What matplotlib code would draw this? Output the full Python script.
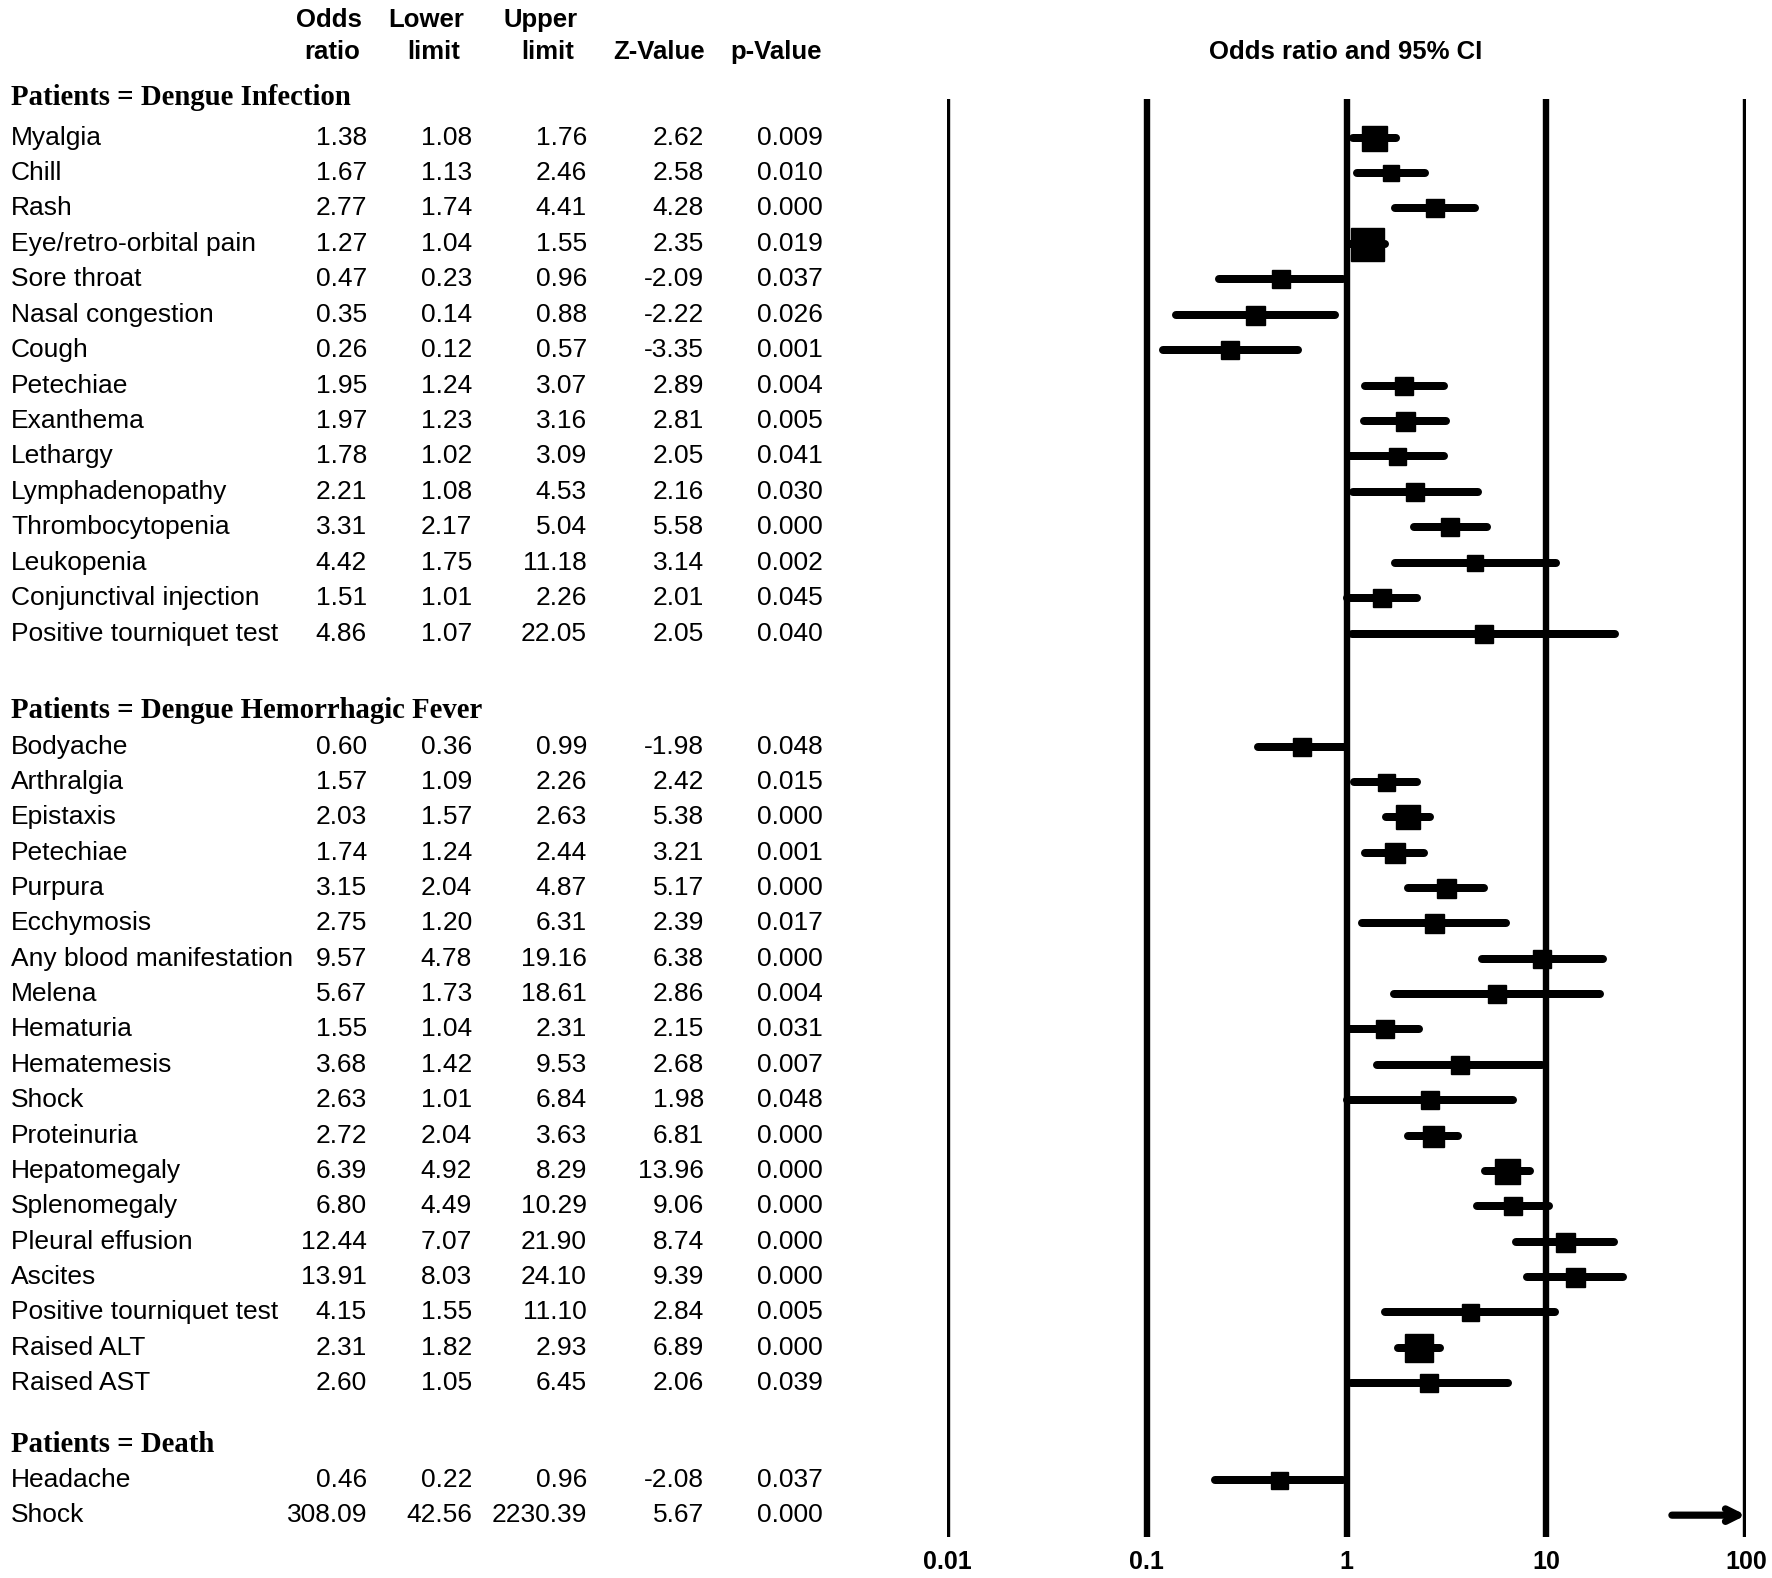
import numpy as np
import matplotlib
matplotlib.use("Agg")
from matplotlib import pyplot as plt

# ---- data ------------------------------------------------------------------
group_titles = ["Patients = Dengue Infection",
                "Patients = Dengue Hemorrhagic Fever",
                "Patients = Death"]

di_labels = ["Myalgia", "Chill", "Rash", "Eye/retro-orbital pain", "Sore throat",
             "Nasal congestion", "Cough", "Petechiae", "Exanthema", "Lethargy",
             "Lymphadenopathy", "Thrombocytopenia", "Leukopenia",
             "Conjunctival injection", "Positive tourniquet test"]
di_or = [1.38, 1.67, 2.77, 1.27, 0.47, 0.35, 0.26, 1.95, 1.97, 1.78, 2.21, 3.31, 4.42, 1.51, 4.86]
di_lower = [1.08, 1.13, 1.74, 1.04, 0.23, 0.14, 0.12, 1.24, 1.23, 1.02, 1.08, 2.17, 1.75, 1.01, 1.07]
di_upper = [1.76, 2.46, 4.41, 1.55, 0.96, 0.88, 0.57, 3.07, 3.16, 3.09, 4.53, 5.04, 11.18, 2.26, 22.05]
di_z = [2.62, 2.58, 4.28, 2.35, -2.09, -2.22, -3.35, 2.89, 2.81, 2.05, 2.16, 5.58, 3.14, 2.01, 2.05]
di_p = [0.009, 0.010, 0.000, 0.019, 0.037, 0.026, 0.001, 0.004, 0.005, 0.041, 0.030, 0.000, 0.002, 0.045, 0.040]
di_weight = [25, 16, 18, 33, 18, 19, 18, 18, 19, 17, 18, 18, 16, 18, 18]

dhf_labels = ["Bodyache", "Arthralgia", "Epistaxis", "Petechiae", "Purpura", "Ecchymosis",
              "Any blood manifestation", "Melena", "Hematuria", "Hematemesis", "Shock",
              "Proteinuria", "Hepatomegaly", "Splenomegaly", "Pleural effusion", "Ascites",
              "Positive tourniquet test", "Raised ALT", "Raised AST"]
dhf_or = [0.60, 1.57, 2.03, 1.74, 3.15, 2.75, 9.57, 5.67, 1.55, 3.68, 2.63, 2.72, 6.39, 6.80,
          12.44, 13.91, 4.15, 2.31, 2.60]
dhf_lower = [0.36, 1.09, 1.57, 1.24, 2.04, 1.20, 4.78, 1.73, 1.04, 1.42, 1.01, 2.04, 4.92, 4.49,
             7.07, 8.03, 1.55, 1.82, 1.05]
dhf_upper = [0.99, 2.26, 2.63, 2.44, 4.87, 6.31, 19.16, 18.61, 2.31, 9.53, 6.84, 3.63, 8.29,
             10.29, 21.90, 24.10, 11.10, 2.93, 6.45]
dhf_z = [-1.98, 2.42, 5.38, 3.21, 5.17, 2.39, 6.38, 2.86, 2.15, 2.68, 1.98, 6.81, 13.96, 9.06,
         8.74, 9.39, 2.84, 6.89, 2.06]
dhf_p = [0.048, 0.015, 0.000, 0.001, 0.000, 0.017, 0.000, 0.004, 0.031, 0.007, 0.048, 0.000,
         0.000, 0.000, 0.000, 0.000, 0.005, 0.000, 0.039]
dhf_weight = [18, 17, 24, 20, 19, 19, 18, 18, 18, 18, 18, 21, 25, 18, 19, 19, 17, 27, 18]

death_labels = ["Headache", "Shock"]
death_or = [0.46, 308.09]
death_lower = [0.22, 42.56]
death_upper = [0.96, 2230.39]
death_z = [-2.08, 5.67]
death_p = [0.037, 0.000]
death_weight = [17, 17]

axis_ticks = [0.01, 0.1, 1, 10, 100]
tick_labels = ["0.01", "0.1", "1", "10", "100"]

groups = [
    (group_titles[0], di_labels, di_or, di_lower, di_upper, di_z, di_p, di_weight),
    (group_titles[1], dhf_labels, dhf_or, dhf_lower, dhf_upper, dhf_z, dhf_p, dhf_weight),
    (group_titles[2], death_labels, death_or, death_lower, death_upper, death_z, death_p, death_weight),
]

# ---- layout (pixel units of the 1772x1578 output) ---------------------------
W, H = 1772, 1578
ROW = [35.44, 35.35, 35.2]
head_to_row = [40.5, 36, 35]
gaps_after = [77, 62, 0]  # last row -> next group header

sans = "Liberation Sans"
serif = "Liberation Serif"
fs = 19

fig = plt.figure(figsize=(W / 100, H / 100), dpi=100)
ax = fig.add_axes([0, 0, 1, 1])
ax.set_xlim(0, W)
ax.set_ylim(H, 0)
ax.axis("off")

x0, x1 = 947, 1746
fx = fig.add_axes([x0 / W, 0, (x1 - x0) / W, 1])
fx.set_xscale("log")
fx.set_xlim(axis_ticks[0], axis_ticks[-1])
fx.set_ylim(H, 0)
fx.axis("off")

# column headers
hdr = dict(fontsize=18.5, fontweight="bold", family=sans, va="center")
ax.text(329, 20, "Odds", ha="center", **hdr)
ax.text(332, 52, "ratio", ha="center", **hdr)
ax.text(426, 20, "Lower", ha="center", **hdr)
ax.text(434, 52, "limit", ha="center", **hdr)
ax.text(541, 20, "Upper", ha="center", **hdr)
ax.text(548, 52, "limit", ha="center", **hdr)
ax.text(659, 52, "Z-Value", ha="center", **hdr)
ax.text(776, 52, "p-Value", ha="center", **hdr)
ax.text(1346, 52, "Odds ratio and 95% CI", ha="center", **hdr)

col_right = [367, 472, 587, 704, 823]
txt = dict(fontsize=fs, family=sans, va="center")

ci_lw = 8 * 72 / 100
y = 97
for g, ((title, labels, ors, lo, hi, zs, ps, wts), gap) in enumerate(zip(groups, gaps_after)):
    ax.text(11, y, title, fontsize=20.7, fontweight="bold", family=serif,
            ha="left", va="center")
    y += head_to_row[g]
    for i, lab in enumerate(labels):
        ax.text(11, y, lab, ha="left", **txt)
        vals = [f"{ors[i]:.2f}", f"{lo[i]:.2f}", f"{hi[i]:.2f}", f"{zs[i]:.2f}", f"{ps[i]:.3f}"]
        for xr, v in zip(col_right, vals):
            ax.text(xr, y, v, ha="right", **txt)

        top = axis_ticks[-1]
        if hi[i] > top:
            # CI runs off the scale: arrow up to the right edge
            fx.annotate("", xy=(top, y), xytext=(lo[i], y),
                        arrowprops=dict(arrowstyle="->,head_length=0.9,head_width=0.45",
                                        lw=ci_lw * 0.9, color="black",
                                        shrinkA=0, shrinkB=0))
        else:
            fx.plot([lo[i], hi[i]], [y, y], color="black", lw=ci_lw,
                    solid_capstyle="round", zorder=3)
        if ors[i] <= top:
            fx.plot([ors[i]], [y], marker="s", color="black",
                    ms=wts[i] * 72 / 100, zorder=4)
        y += ROW[g]
    y += gap - ROW[g]

# reference lines and scale labels
fx.vlines(axis_ticks, 99, 1537, color="black", lw=4.6, zorder=2)
for t, lab in zip(axis_ticks, tick_labels):
    fx.text(t, 1562, lab, ha="center", va="center", fontsize=18,
            fontweight="bold", family=sans, clip_on=False)

fig.savefig("out.png", dpi=100)
